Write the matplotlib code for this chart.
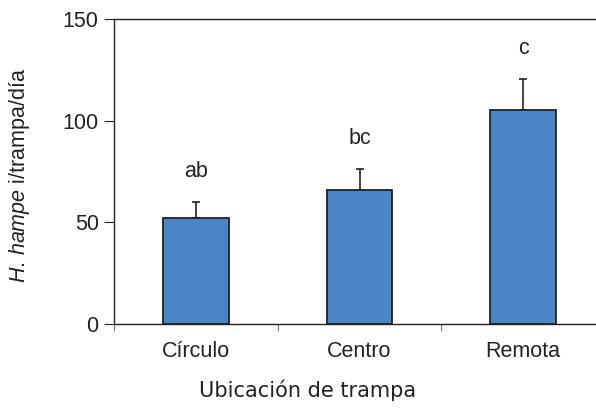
import matplotlib
matplotlib.use("Agg")
import matplotlib.pyplot as plt
import numpy as np

categories = ["Círculo", "Centro", "Remota"]
means = [52, 66, 105]
errors = [8, 10, 15.5]
letters = ["ab", "bc", "c"]

plt.rcParams['mathtext.fontset'] = 'custom'
plt.rcParams['mathtext.it'] = 'Liberation Sans:italic'
plt.rcParams['mathtext.rm'] = 'Liberation Sans'

W, H = 596, 409
fig = plt.figure(figsize=(W/100, H/100), dpi=100)
left, right, top, bottom = 114, 605, 19, 324
ax = fig.add_axes([left/W, 1-bottom/H, (right-left)/W, (bottom-top)/H])

x = np.arange(len(categories))
ax.bar(x, means, width=0.4, color="#4A86C6", edgecolor="#222222", linewidth=1.3, zorder=2)
ax.errorbar(x, means, yerr=[np.zeros(len(errors)), errors], fmt='none',
            ecolor="#222222", elinewidth=1.2, capsize=3, capthick=1.2, zorder=1)
for xi, m, e, l in zip(x, means, errors, letters):
    ax.text(xi, m + e + 15, l, ha='center', va='center', fontsize=15.5,
            family='Liberation Sans', color='#222222')

ax.set_xlim(-0.5, 2.5)
ax.set_ylim(0, 150)
ax.set_yticks([0, 50, 100, 150])
ax.set_xticks([-0.5, 0.5, 1.5, 2.5])
ax.set_xticklabels([])
ax.set_xticks(x, minor=True)
ax.set_xticklabels(categories, minor=True)
ax.tick_params(axis='x', which='minor', length=0, pad=12, labelsize=15.5, labelcolor='#222222')
ax.tick_params(axis='x', which='major', length=5, direction='out', color='#777777')
ax.tick_params(axis='y', length=7, direction='out', labelsize=15.5, pad=4, labelcolor='#222222', color='#222222')
for lbl in ax.get_xticklabels(minor=True) + ax.get_yticklabels():
    lbl.set_family('Liberation Sans')

for s in ['left', 'top', 'bottom']:
    ax.spines[s].set_color('#222222')
    ax.spines[s].set_linewidth(1.0)
ax.spines['right'].set_visible(False)

fig.text(20/W, 1-175/H, r'$\it{H.\,hampe}$ i/trampa/día', rotation=90, ha='center', va='center',
         fontsize=15.5, family='Liberation Sans', color='#222222')
fig.text(308/W, 1-390/H, 'Ubicación de trampa', ha='center', va='center',
         fontsize=15, family='DejaVu Sans', color='#222222')

fig.savefig("out.png", dpi=100)
